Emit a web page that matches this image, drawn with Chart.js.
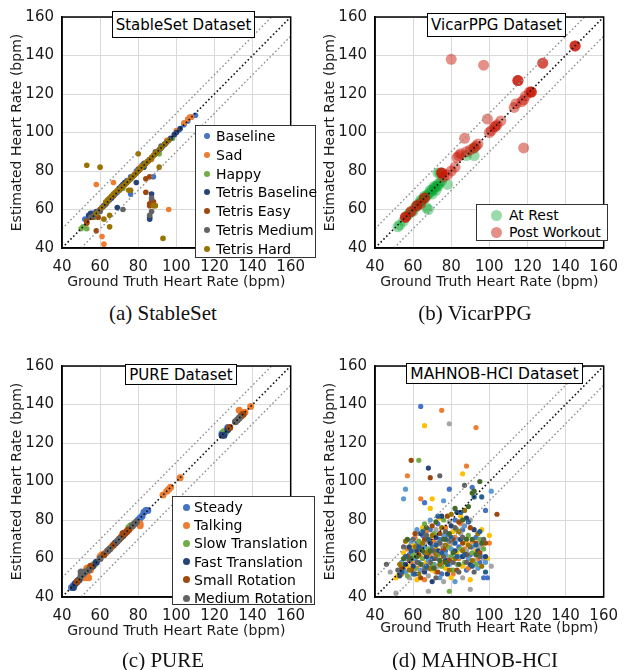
<!DOCTYPE html>
<html><head><meta charset="utf-8">
<script src="https://cdn.jsdelivr.net/npm/chart.js@4"></script>
<style>
body{margin:0;background:#fff;}
#page{position:relative;width:631px;height:670px;overflow:hidden;background:#fff;}
canvas{position:absolute;}
.tbox{position:absolute;border:1.3px solid #000;background:#fff;font-family:'DejaVu Sans';font-size:15px;display:flex;align-items:center;justify-content:center;color:#000;box-sizing:border-box;white-space:nowrap;}
.legend{position:absolute;border:1.3px solid #333;background:#fff;font-family:'DejaVu Sans';font-size:14px;color:#000;box-sizing:border-box;}
.row{position:absolute;white-space:nowrap;line-height:16px;}
.dot{position:absolute;border-radius:50%;}
.cap{position:absolute;font-family:'Liberation Serif';font-size:21px;text-align:center;width:300px;color:#111;white-space:nowrap;}
</style></head>
<body>
<div id="page">
<canvas id="cA" width="315" height="300" style="left:0px;top:0px"></canvas>
<canvas id="cB" width="315" height="300" style="left:313px;top:0px"></canvas>
<canvas id="cC" width="315" height="300" style="left:0px;top:349px"></canvas>
<canvas id="cD" width="315" height="300" style="left:313px;top:349px"></canvas>
</div>
<script>
// ---------- axis / labels ----------
const axisTicks = [40, 60, 80, 100, 120, 140, 160];
const xAxisTitle = 'Ground Truth Heart Rate (bpm)';
const yAxisTitle = 'Estimated Heart Rate (bpm)';
const panelTitles = ['StableSet Dataset', 'VicarPPG Dataset', 'PURE Dataset', 'MAHNOB-HCI Dataset'];
const panelCaptions = ['(a) StableSet', '(b) VicarPPG', '(c) PURE', '(d) MAHNOB-HCI'];

// reference lines (y = x and +/- 10 bpm)
const identityLine = [[40, 40], [160, 160]];
const upperBand = [[40, 50], [150, 160]];
const lowerBand = [[50, 40], [160, 150]];

// ---------- (a) StableSet ----------
const stableSeries = ['Baseline', 'Sad', 'Happy', 'Tetris Baseline', 'Tetris Easy', 'Tetris Medium', 'Tetris Hard'];
const stableBaseline = [[52,55],[54,56],[55,57],[56,58],[57,58],[60,60],[62,62],[63,63],[64,64],[66,66],[69,69],[72,73],[74,75],[76,77],[79,80],[82,83],[85,85],[88,88],[91,91],[93,93],[96,96],[99,99],[101,101],[104,104],[106,106],[108,108],[110,109],[88,77],[76,68]];
const stableSad = [[53,53],[57,57],[63,63],[67,68],[70,70],[73,74],[78,78],[81,82],[82,82],[84,84],[87,86],[90,90],[95,96],[100,101],[104,105],[106,107],[107,108],[108,108],[58,73],[67,74],[61,46],[62,42],[96,60],[80,80]];
const stableHappy = [[50,50],[51,51],[53,50],[57,56],[59,59],[64,64],[68,69],[71,71],[75,75],[79,79],[83,83],[86,86],[89,89],[91,89],[94,94],[98,97],[72,71]];
const stableTetrisBaseline = [[54,57],[55,58],[58,59],[61,61],[63,63],[66,66],[70,71],[72,73],[73,74],[76,76],[78,78],[80,80],[83,82],[86,86],[89,89],[92,92],[94,94],[97,97],[99,99],[100,100],[102,102],[69,61],[79,74],[86,55],[86,56],[87,68]];
const stableTetrisEasy = [[53,53],[53,54],[56,56],[58,49],[60,60],[63,63],[67,67],[71,71],[74,74],[77,77],[81,81],[84,84],[87,87],[84,76],[86,77],[84,69],[86,62],[88,64],[87,65],[86,63],[59,56]];
const stableTetrisMedium = [[55,56],[57,57],[59,59],[60,59],[62,62],[65,65],[68,68],[70,70],[71,72],[73,73],[74,74],[76,76],[77,77],[79,79],[80,81],[83,84],[85,85],[86,86],[89,90],[91,91],[92,93],[95,95],[72,60],[87,59],[87,66],[86,57]];
const stableTetrisHard = [[58,58],[61,61],[63,64],[64,65],[65,66],[66,67],[67,68],[68,69],[69,70],[70,70],[71,71],[72,72],[73,73],[74,74],[75,75],[76,76],[77,77],[78,78],[79,79],[80,80],[81,81],[82,82],[83,83],[84,84],[85,85],[86,86],[87,87],[88,88],[89,89],[90,90],[92,92],[94,94],[96,96],[53,83],[60,82],[62,55],[65,57],[65,51],[80,89],[91,82],[76,70],[75,70],[93,45],[88,62],[89,62]];

// ---------- (b) VicarPPG ----------
const vicarSeries = ['At Rest', 'Post Workout'];
const vicarRest = [[52,51],[53,52],[55,54],[57,57],[58,58],[60,59],[61,61],[62,62],[63,63],[64,64],[64,65],[65,65],[66,66],[66,67],[67,67],[68,68],[69,69],[69,70],[70,70],[71,71],[71,72],[72,72],[73,73],[73,72],[74,74],[75,75],[73,79],[74,79],[78,73],[68,60],[67,61],[88,88],[92,88],[92,92],[70,68],[72,70]];
const vicarWorkout = [[56,56],[56,56],[56,56],[59,59],[59,59],[62,62],[62,62],[64,63],[66,66],[66,66],[75,79],[75,79],[75,79],[76,77],[78,78],[80,80],[82,82],[83,87],[84,88],[85,89],[87,97],[88,90],[90,91],[92,92],[93,93],[94,94],[80,138],[97,135],[99,107],[100,100],[101,101],[103,103],[103,103],[104,104],[106,106],[113,113],[114,115],[115,127],[115,127],[115,127],[117,116],[118,117],[119,119],[121,121],[122,121],[122,121],[122,121],[118,92],[128,136],[128,136],[145,145],[145,145],[145,145]];

// ---------- (c) PURE ----------
const pureSeries = ['Steady', 'Talking', 'Slow Translation', 'Fast Translation', 'Small Rotation', 'Medium Rotation'];
const pureSteady = [[45,45],[46,46],[48,48],[51,51],[53,53],[55,55],[80,80],[81,81],[82,82],[83,84],[84,85],[85,85],[124,125],[125,125],[126,126],[127,128]];
const pureTalking = [[52,50],[53,51],[54,50],[53,55],[55,54],[57,57],[60,61],[61,62],[63,63],[66,66],[70,70],[74,74],[76,76],[81,77],[81,78],[93,93],[95,95],[96,96],[97,97],[102,102],[133,137],[135,135],[136,136],[139,139],[128,128]];
const pureSlowTranslation = [[57,57],[75,76],[76,77],[126,126],[125,126]];
const pureFastTranslation = [[46,45],[47,47],[49,49],[56,56],[58,58],[68,68],[72,72],[124,124],[125,124],[127,127]];
const pureSmallRotation = [[48,48],[55,56],[62,62],[67,67],[71,71],[72,73],[73,73],[74,74],[75,75],[128,128],[134,134],[135,135]];
const pureMediumRotation = [[50,51],[50,53],[51,52],[52,53],[54,54],[60,60],[64,64],[65,65],[69,69],[70,70],[77,77],[78,78],[79,79],[131,131],[132,132],[133,133]];

// ---------- (d) MAHNOB-HCI (subjects, no legend) ----------
const mahnobS1 = [[64,139],[79,96],[66,89],[91,97],[99,50],[98,85],[55,55],[58,62],[60,52],[62,68],[63,58],[65,72],[66,63],[68,55],[69,75],[70,66],[72,60],[73,78],[74,70],[75,52],[77,64],[78,72],[80,58],[82,80],[84,66],[86,75],[88,54],[90,62],[93,71],[95,58],[97,50]];
const mahnobS2 = [[75,137],[93,128],[88,108],[64,91],[57,103],[54,52],[57,65],[59,58],[61,71],[62,55],[64,67],[66,49],[67,74],[69,61],[71,69],[72,53],[74,64],[76,58],[77,76],[79,66],[81,52],[82,71],[84,60],[85,78],[87,65],[89,55],[91,69],[94,60],[96,67],[100,68]];
const mahnobS3 = [[79,130],[90,44],[68,43],[51,42],[48,53],[101,56],[53,54],[56,60],[58,50],[61,64],[63,73],[65,57],[67,69],[68,51],[70,63],[72,75],[73,56],[75,67],[76,48],[78,61],[79,79],[81,68],[83,57],[85,73],[86,50],[88,64],[90,80],[92,59],[95,66],[97,60]];
const mahnobS4 = [[66,129],[86,104],[70,91],[69,86],[51,50],[100,72],[52,51],[55,63],[57,56],[60,67],[62,49],[64,61],[65,76],[67,58],[69,70],[70,54],[72,66],[74,81],[75,61],[77,55],[78,70],[80,50],[81,74],[83,63],[85,82],[86,56],[88,68],[90,49],[93,64],[96,75],[99,60]];
const mahnobS5 = [[56,96],[55,91],[76,90],[101,95],[54,58],[56,53],[59,69],[61,60],[62,75],[64,54],[66,66],[68,59],[69,80],[71,57],[73,68],[74,50],[76,72],[77,62],[79,57],[80,65],[82,48],[84,70],[85,61],[87,77],[89,60],[91,66],[94,55],[96,61],[98,58]];
const mahnobS6 = [[63,111],[79,43],[55,57],[57,51],[60,62],[61,55],[63,69],[65,60],[66,78],[68,65],[70,57],[71,73],[73,62],[75,56],[76,80],[78,66],[80,61],[81,54],[83,75],[85,65],[87,58],[89,72],[91,63],[93,57],[95,70],[97,65]];
const mahnobS7 = [[68,107],[53,51],[56,57],[58,66],[60,56],[62,64],[64,73],[66,53],[67,61],[69,68],[70,48],[72,71],[73,64],[75,82],[77,59],[78,52],[80,77],[82,64],[83,84],[85,70],[86,61],[88,81],[90,57],[92,75],[94,64],[98,61]];
const mahnobS8 = [[59,111],[69,102],[104,83],[54,55],[57,61],[59,54],[61,73],[63,62],[64,50],[66,70],[68,63],[70,77],[71,60],[73,53],[74,73],[76,65],[78,82],[79,59],[81,70],[83,54],[84,79],[86,68],[88,62],[90,76],[93,68],[95,63],[98,68]];
const mahnobS9 = [[74,103],[87,98],[46,57],[52,54],[55,66],[58,59],[60,70],[62,58],[64,65],[66,55],[67,72],[69,58],[71,64],[72,50],[74,68],[76,61],[77,74],[79,69],[81,58],[82,76],[84,53],[86,71],[88,58],[90,66],[92,53],[95,61],[97,70]];
const mahnobS10 = [[53,57],[56,69],[58,54],[61,66],[63,52],[65,68],[67,63],[69,55],[70,72],[72,62],[74,57],[75,76],[77,67],[79,54],[80,83],[82,60],[84,74],[86,64],[87,85],[89,67],[91,59],[94,73],[96,56]];
const mahnobS11 = [[92,92],[96,92],[54,53],[56,61],[59,64],[61,52],[63,66],[65,74],[67,56],[68,70],[70,60],[72,67],[73,82],[75,63],[77,70],[78,57],[80,71],[82,68],[83,61],[85,84],[87,62],[89,79],[91,56],[93,67],[95,74],[98,53]];
const mahnobS12 = [[95,100],[91,94],[92,95],[55,60],[57,70],[59,60],[62,61],[64,57],[65,64],[67,76],[69,64],[71,55],[72,79],[74,59],[76,70],[77,58],[79,73],[81,63],[82,86],[84,57],[86,80],[88,70],[89,87],[91,70],[93,62],[96,68]];

// ---------- styling (kept apart from data) ----------
const officeColors = ['#4472C4','#ED7D31','#A5A5A5','#FFC000','#5B9BD5','#70AD47','#264478','#9E480E','#636363','#997300','#255E91','#43682B'];
const stableColors = ['#4472C4','#ED7D31','#70AD47','#264478','#9E480E','#636363','#997300'];
const vicarColors = ['rgba(0,165,45,0.4)','rgba(200,20,0,0.47)'];
const pureColors = ['#4472C4','#ED7D31','#70AD47','#264478','#9E480E','#636363'];
const FONT = 'DejaVu Sans';
const TEXT = '#1a1a1a';

const toPts = arr => arr.map(p => ({x: p[0], y: p[1]}));

function refLines() {
  return [
    {data: toPts(identityLine), showLine: true, borderColor: '#111', borderWidth: 1.6, borderDash: [1.6, 2.4], pointRadius: 0, order: -100},
    {data: toPts(upperBand), showLine: true, borderColor: '#8f8f8f', borderWidth: 1.4, borderDash: [1.6, 2.4], pointRadius: 0, order: -99},
    {data: toPts(lowerBand), showLine: true, borderColor: '#8f8f8f', borderWidth: 1.4, borderDash: [1.6, 2.4], pointRadius: 0, order: -98}
  ];
}

function seriesSets(list, colors, radius) {
  return list.map((arr, i) => ({
    data: toPts(arr), backgroundColor: colors[i], borderWidth: 0,
    pointRadius: radius, pointHoverRadius: radius, order: -i
  }));
}

const framePlugin = {
  id: 'frame',
  afterDatasetsDraw(c) {
    const a = c.chartArea, ctx = c.ctx;
    ctx.save(); ctx.strokeStyle = '#000'; ctx.lineWidth = 1.5;
    ctx.strokeRect(a.left, a.top, a.right - a.left, a.bottom - a.top);
    ctx.restore();
  }
};

function scales(xTitlePad) {
  const tickFont = {family: FONT, size: 15};
  const base = {
    type: 'linear', min: axisTicks[0], max: axisTicks[axisTicks.length - 1],
    grid: {color: '#d9d9d9', lineWidth: 1, drawTicks: false},
    border: {display: true, color: '#000', width: 1.5}
  };
  return {
    x: Object.assign({}, base, {
      ticks: {stepSize: axisTicks[1] - axisTicks[0], font: tickFont, color: TEXT, padding: 10, maxRotation: 0},
      title: {display: true, text: xAxisTitle, font: {family: FONT, size: 14}, color: TEXT, padding: {top: 0, bottom: xTitlePad}},
      afterFit: s => { s.height = 52; }
    }),
    y: Object.assign({}, base, {
      ticks: {stepSize: axisTicks[1] - axisTicks[0], font: tickFont, color: TEXT, padding: 8},
      title: {display: true, text: yAxisTitle, font: {family: FONT, size: 14}, color: TEXT, padding: {top: 9, bottom: 0}},
      afterFit: s => { s.width = 62; }
    })
  };
}

function makeChart(id, datasets, xTitlePad) {
  return new Chart(document.getElementById(id), {
    type: 'scatter',
    data: {datasets: datasets},
    options: {
      responsive: false, animation: false, devicePixelRatio: 1,
      layout: {padding: {top: 14, right: 12, left: 0, bottom: 0}},
      plugins: {legend: {display: false}, tooltip: {enabled: false}},
      scales: scales(xTitlePad)
    },
    plugins: [framePlugin]
  });
}

makeChart('cA', refLines().concat(seriesSets([stableBaseline, stableSad, stableHappy, stableTetrisBaseline, stableTetrisEasy, stableTetrisMedium, stableTetrisHard], stableColors, 2.8)), 9);
makeChart('cB', refLines().concat(seriesSets([vicarRest, vicarWorkout], vicarColors, 5.5)), 9);
makeChart('cC', refLines().concat(seriesSets([pureSteady, pureTalking, pureSlowTranslation, pureFastTranslation, pureSmallRotation, pureMediumRotation], pureColors, 3.5)), 9);
makeChart('cD', refLines().concat(seriesSets([mahnobS1, mahnobS2, mahnobS3, mahnobS4, mahnobS5, mahnobS6, mahnobS7, mahnobS8, mahnobS9, mahnobS10, mahnobS11, mahnobS12], officeColors, 2.6)), 12);

// ---------- HTML overlays: title boxes, legends, captions ----------
const page = document.getElementById('page');
function titleBox(text, l, t, w, h, fs) {
  const d = document.createElement('div'); d.className = 'tbox';
  Object.assign(d.style, {left: l + 'px', top: t + 'px', width: w + 'px', height: h + 'px', fontSize: fs + 'px'});
  d.textContent = text; page.appendChild(d);
}
function legend(names, colors, cfg) {
  const d = document.createElement('div'); d.className = 'legend';
  Object.assign(d.style, {left: cfg.l + 'px', top: cfg.t + 'px', width: cfg.w + 'px', height: cfg.h + 'px'});
  names.forEach((n, i) => {
    const cy = cfg.first + i * cfg.step;
    const dot = document.createElement('div'); dot.className = 'dot';
    Object.assign(dot.style, {left: (cfg.dx - cfg.r) + 'px', top: (cy - cfg.r) + 'px', width: 2 * cfg.r + 'px', height: 2 * cfg.r + 'px', background: colors[i]});
    const r = document.createElement('div'); r.className = 'row';
    Object.assign(r.style, {left: cfg.tx + 'px', top: (cy - 8) + 'px'});
    r.textContent = n;
    d.appendChild(dot); d.appendChild(r);
  });
  page.appendChild(d);
}
function caption(text, cx, cy) {
  const d = document.createElement('div'); d.className = 'cap';
  Object.assign(d.style, {left: (cx - 150) + 'px', top: (cy - 12) + 'px'});
  d.textContent = text; page.appendChild(d);
}

titleBox(panelTitles[0], 112, 11, 143, 27, 15);
titleBox(panelTitles[1], 427, 13, 139, 24, 15);
titleBox(panelTitles[2], 125, 364, 112, 21, 15);
titleBox(panelTitles[3], 406, 363, 177, 21, 15.5);

legend(stableSeries, stableColors, {l: 195, t: 125, w: 121, h: 133, first: 10, step: 18.8, dx: 11, r: 3, tx: 20});
legend(vicarSeries, vicarColors, {l: 476, t: 204, w: 132, h: 37, first: 10, step: 17, dx: 19, r: 5.5, tx: 32});
legend(pureSeries, pureColors, {l: 172, t: 496, w: 143, h: 109, first: 10, step: 18.2, dx: 13, r: 3.5, tx: 21});

caption(panelCaptions[0], 163, 313);
caption(panelCaptions[1], 475, 313);
caption(panelCaptions[2], 163, 660);
caption(panelCaptions[3], 475, 660);
</script>
</body></html>
